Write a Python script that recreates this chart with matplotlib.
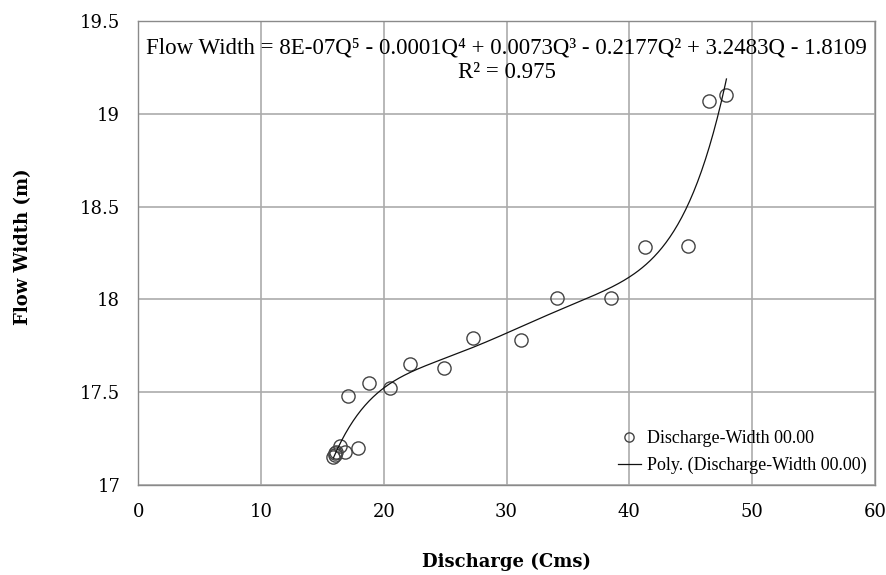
import numpy as np
import matplotlib.pyplot as plt

# discharge (cms) and flow width (m) measurements
discharge = [15.9, 16.0, 16.0, 16.1, 16.4, 16.8, 17.1, 17.9, 18.8, 20.5,
             22.1, 24.9, 27.3, 31.2, 34.1, 38.5, 41.3, 44.8, 46.5, 47.9]
width = [17.15, 17.16, 17.17, 17.18, 17.21, 17.18, 17.48, 17.20, 17.55, 17.52,
         17.65, 17.63, 17.79, 17.78, 18.01, 18.01, 18.28, 18.29, 19.07, 19.10]

x_ticks = [0, 10, 20, 30, 40, 50, 60]
y_ticks = [17, 17.5, 18, 18.5, 19, 19.5]
y_tick_labels = ['17', '17.5', '18', '18.5', '19', '19.5']

equation = ('Flow Width = 8E-07Q\u2075 - 0.0001Q\u2074 + 0.0073Q\u00b3 '
            '- 0.2177Q\u00b2 + 3.2483Q - 1.8109')
r2_text = 'R\u00b2 = 0.975'

serif = ['Liberation Serif', 'DejaVu Serif']
plt.rcParams['font.family'] = serif

fig = plt.figure(figsize=(8.87, 5.75), dpi=100)
ax = fig.add_axes([0.1558, 0.1565, 0.8307, 0.807])

q = np.array(discharge)
w = np.array(width)
coef = np.polyfit(q, w, 5)
qq = np.linspace(q.min(), q.max(), 300)

ax.plot(q, w, 'o', ms=9.5, mfc='none', mec='#444444', mew=1.0,
        label='Discharge-Width 00.00', zorder=3)
ax.plot(qq, np.polyval(coef, qq), color='#111111', lw=0.9,
        label='Poly. (Discharge-Width 00.00)', zorder=4)

ax.set_xlim(0, 60)
ax.set_ylim(17, 19.5)
ax.set_xticks(x_ticks)
ax.set_yticks(y_ticks)
ax.set_yticklabels(y_tick_labels)
ax.tick_params(length=0, pad=13)
for lab in ax.get_xticklabels() + ax.get_yticklabels():
    lab.set_family(['DejaVu Serif'])
    lab.set_fontsize(13)
ax.grid(True, color='#ababab', lw=1.2)
ax.set_axisbelow(True)
for s in ax.spines.values():
    s.set_color('#8a8a8a')
    s.set_linewidth(1.0)

ax.set_xlabel('Discharge (Cms)', fontsize=13, fontweight='bold',
              family=['DejaVu Serif'])
ax.set_ylabel('Flow Width (m)', fontsize=13, fontweight='bold',
              family=['DejaVu Serif'])
ax.xaxis.set_label_coords(0.5, -0.147)
ax.yaxis.set_label_coords(-0.144, 0.514)

ax.text(30, 19.357, equation, ha='center', va='center', fontsize=16.5)
ax.text(30, 19.22, r2_text, ha='center', va='center', fontsize=16.5)

ax.legend(loc='lower right', bbox_to_anchor=(1.01, -0.012), frameon=False,
          fontsize=13, markerscale=0.7, handlelength=1.3, handletextpad=0.3,
          labelspacing=0.55)

fig.savefig('out.png', dpi=100)
